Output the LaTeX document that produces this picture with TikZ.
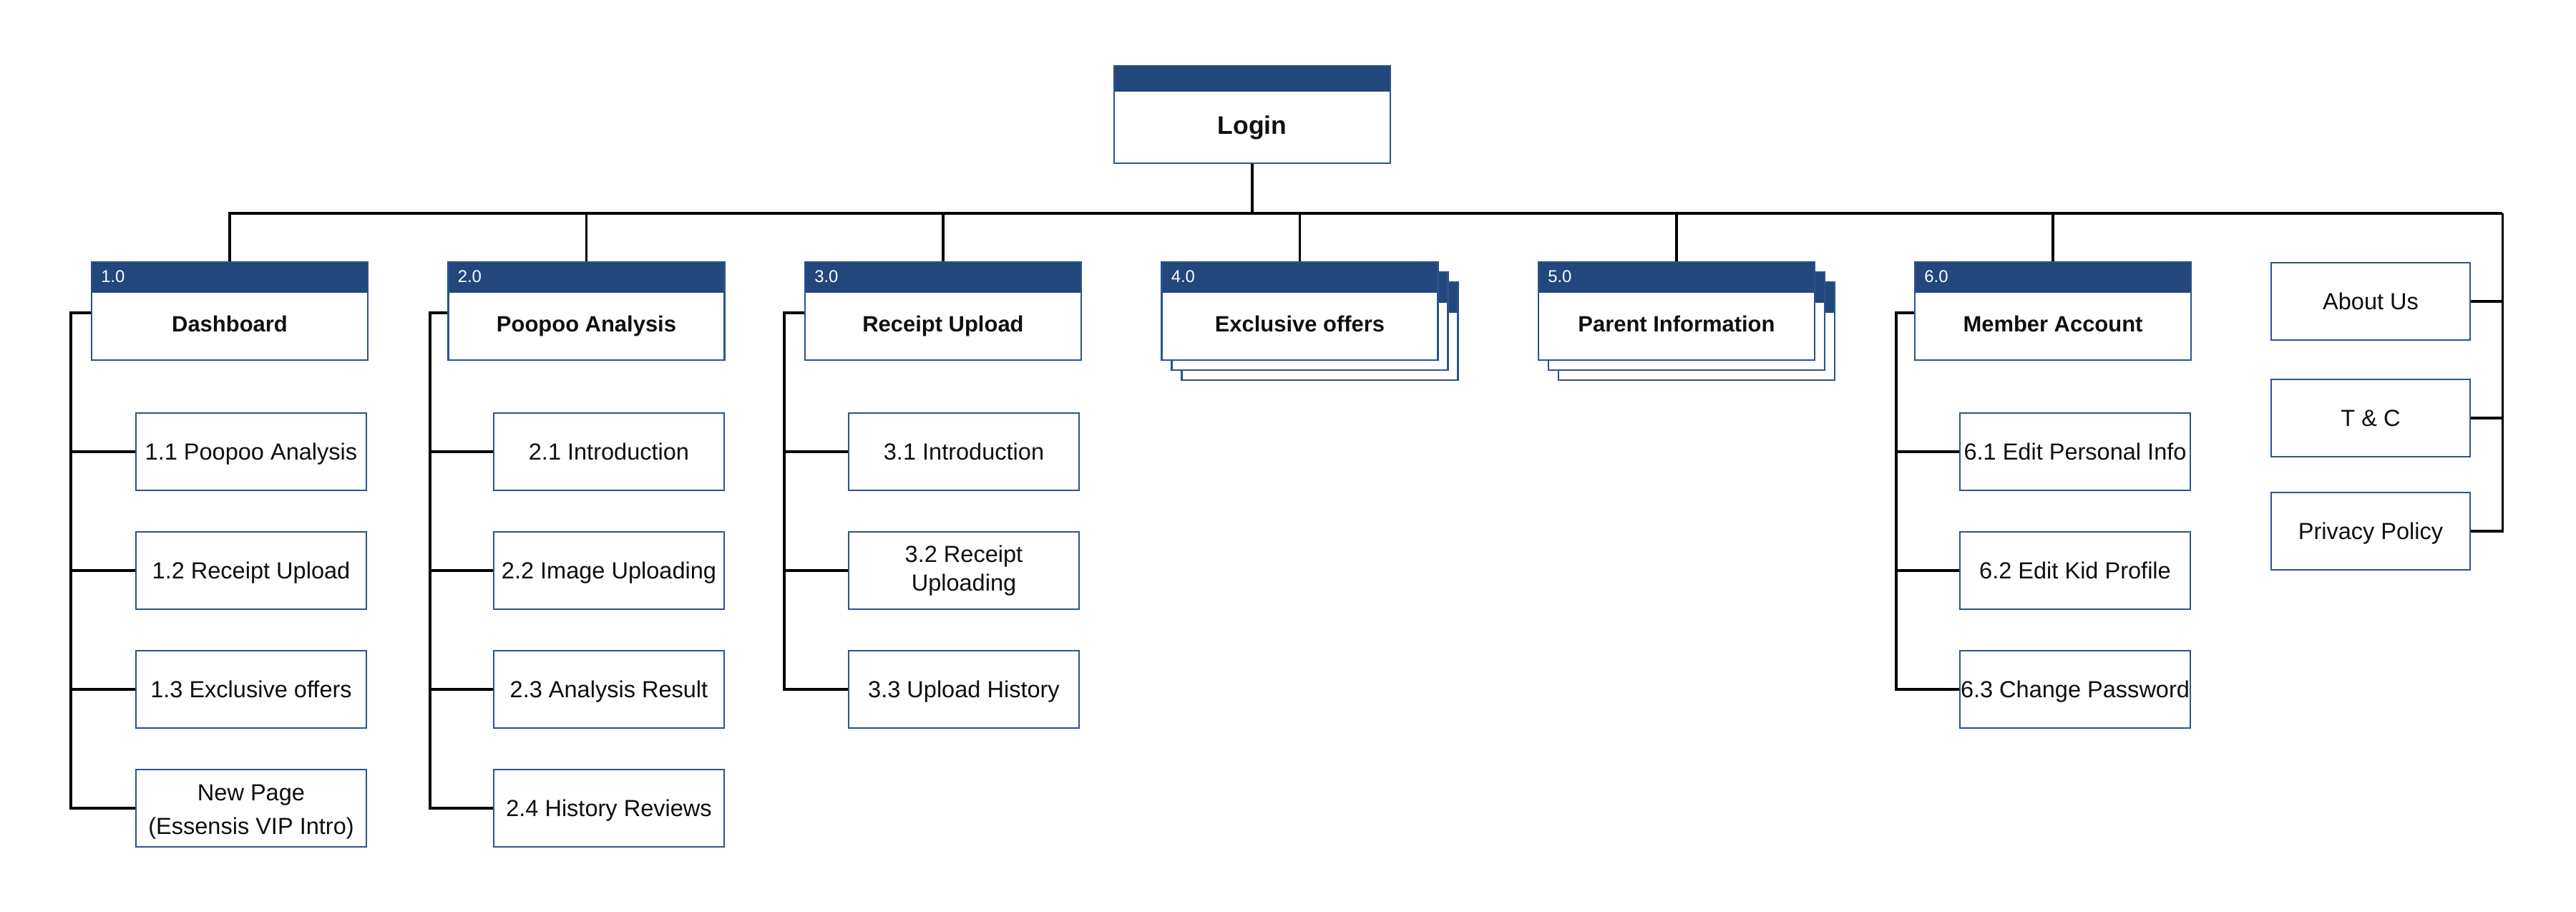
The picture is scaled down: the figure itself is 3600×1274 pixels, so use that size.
\documentclass[tikz,border=0pt]{standalone}
\usepackage{fontspec}
\setmainfont{Liberation Sans}
\usetikzlibrary{calc}
\definecolor{hdr}{RGB}{34,71,124}
\definecolor{bdr}{RGB}{45,83,140}
\definecolor{ink}{RGB}{15,15,15}
\begin{document}
\begin{tikzpicture}[x=0.01cm,y=-0.01cm,
  conn/.style={line width=0.88pt, draw=black},
  hbox/.style={draw=bdr, line width=0.75pt, fill=white, inner sep=0pt,
    minimum width=3.86cm, minimum height=1.37cm,
    path picture={\fill[hdr] (path picture bounding box.north west) rectangle ([yshift=-12.23pt]path picture bounding box.north east);}},
  lbox/.style={draw=bdr, line width=0.75pt, fill=white, inner sep=0pt,
    minimum width=3.86cm, minimum height=1.36cm,
    path picture={\fill[hdr] (path picture bounding box.north west) rectangle ([yshift=-10.24pt]path picture bounding box.north east);}},
  cbase/.style={draw=bdr, line width=0.75pt, fill=white, inner sep=0pt,
    minimum width=3.22cm, minimum height=1.08cm, align=center, text=ink,
    font=\fontsize{9.25pt}{12pt}\selectfont},
  cbox/.style={cbase, text height=6.6pt, text depth=0pt},
  rbox/.style={cbox, minimum width=2.78cm},
  htxt/.style={inner sep=0pt, anchor=base, text=ink, font=\fontsize{8.8pt}{11pt}\selectfont\bfseries},
  hlab/.style={inner sep=0pt, anchor=west, text=white, font=\fontsize{6.8pt}{8pt}\selectfont},
]
\useasboundingbox (0,0) rectangle (3600,1274);

% Login
\node[lbox] (login) at (1750,160) {};
\node[inner sep=0pt, anchor=base, text=ink, font=\fontsize{10.1pt}{12pt}\selectfont\bfseries] (logintxt) at (1750,188) {Login};

% bus
\coordinate (busL) at (321,298);
\coordinate (busR) at (3497,298);

% section boxes
\node[hbox] (d1) at (321,434.5) {};
\node[hbox] (d2) at (819.5,434.5) {};
\node[hbox] (d3) at (1318,434.5) {};
\node[hbox] (d4c) at (1844.5,462.5) {};
\node[hbox] (d4b) at (1830.5,448.5) {};
\node[hbox] (d4) at (1816.5,434.5) {};
\node[hbox] (d5c) at (2371,462.5) {};
\node[hbox] (d5b) at (2357,448.5) {};
\node[hbox] (d5) at (2343,434.5) {};
\node[hbox] (d6) at (2869,434.5) {};

\foreach \n/\num/\txt in {d1/1.0/Dashboard, d2/2.0/Poopoo Analysis, d3/3.0/Receipt Upload, d4/4.0/Exclusive offers, d5/5.0/Parent Information, d6/6.0/Member Account}{
  \node[hlab] (\n lab) at ($(\n.north west)+(14,21.5)$) {\num};
  \node[htxt] (\n txt) at ($(\n.center)+(0,29.5)$) {\txt};
}

% connectors from login to sections
\draw[conn] (login.south) -- (login.south |- busL);
\draw[conn] (d1.north) |- (busR);
\foreach \n in {d2,d3,d4,d5,d6}{
  \draw[conn] (\n.north) -- (\n.north |- busL);
}

% column 1
\node[cbox] (c11) at (351,631) {1.1 Poopoo Analysis};
\node[cbox] (c12) at (351,797) {1.2 Receipt Upload};
\node[cbox] (c13) at (351,963) {1.3 Exclusive offers};
\node[cbase, font=\fontsize{9.25pt}{13.2pt}\selectfont] (c14) at (351,1129) {\rule{0pt}{9.4pt}New Page\\(Essensis VIP Intro)};
\coordinate (sp1) at (99,437);
\draw[conn] (d1.west |- sp1) -- (sp1) |- (c14.west);
\foreach \n in {c11,c12,c13}{ \draw[conn] (\n.west) -- (\n.west -| sp1); }

% column 2
\node[cbox] (c21) at (851,631) {2.1 Introduction};
\node[cbox] (c22) at (851,797) {2.2 Image Uploading};
\node[cbox] (c23) at (851,963) {2.3 Analysis Result};
\node[cbox] (c24) at (851,1129) {2.4 History Reviews};
\coordinate (sp2) at (601,437);
\draw[conn] (d2.west |- sp2) -- (sp2) |- (c24.west);
\foreach \n in {c21,c22,c23}{ \draw[conn] (\n.west) -- (\n.west -| sp2); }

% column 3
\node[cbox] (c31) at (1347,631) {3.1 Introduction};
\node[cbase, font=\fontsize{9.25pt}{11.4pt}\selectfont] (c32) at (1347,797) {3.2 Receipt\\Uploading};
\node[cbox] (c33) at (1347,963) {3.3 Upload History};
\coordinate (sp3) at (1096,437);
\draw[conn] (d3.west |- sp3) -- (sp3) |- (c33.west);
\foreach \n in {c31,c32}{ \draw[conn] (\n.west) -- (\n.west -| sp3); }

% column 6
\node[cbox] (c61) at (2900,631) {6.1 Edit Personal Info};
\node[cbox] (c62) at (2900,797) {6.2 Edit Kid Profile};
\node[cbox] (c63) at (2900,963) {6.3 Change Password};
\coordinate (sp6) at (2650,437);
\draw[conn] (d6.west |- sp6) -- (sp6) |- (c63.west);
\foreach \n in {c61,c62}{ \draw[conn] (\n.west) -- (\n.west -| sp6); }

% right column
\node[rbox] (about) at (3313,421) {About Us};
\node[rbox] (tc) at (3313,584) {T \& C};
\node[rbox] (priv) at (3313,742) {Privacy Policy};
\draw[conn] (busR) |- (priv.east);
\draw[conn] (about.east) -- (about.east -| busR);
\draw[conn] (tc.east) -- (tc.east -| busR);
\end{tikzpicture}
\end{document}
